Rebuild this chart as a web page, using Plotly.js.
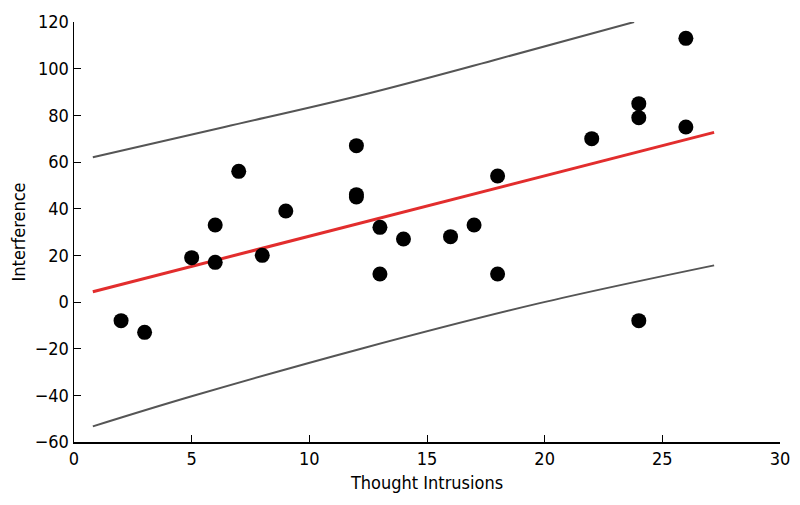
<!DOCTYPE html>
<html>
<head>
<meta charset="utf-8">
<script src="https://cdn.plot.ly/plotly-3.0.1.min.js"></script>
<style>
  body { margin: 0; background: #fff; }
  #chart { width: 800px; height: 505px; }
</style>
</head>
<body>
<div id="chart"></div>
<script>
// observed scores
const intrusions = [2, 3, 5, 6, 6, 7, 8, 9, 12, 12, 12, 13, 13, 14, 16, 17, 18, 18, 22, 24, 24, 24, 26, 26];
const interference = [-8, -13, 19, 33, 17, 56, 20, 39, 67, 46, 45, 32, 12, 27, 28, 33, 54, 12, 70, 85, 79, -8, 113, 75];

// fitted line, read at its two ends
const fitX = [0.8, 27.2];
const fitY = [4.4, 72.7];

// prediction band edges
const upperX = [0.8, 6.4, 12.2, 17.8, 23.8];
const upperY = [62, 75, 88.6, 103.5, 120];
const lowerX = [0.8, 5.0, 12.2, 19.7, 27.2];
const lowerY = [-53.3, -40.4, -20, -0.7, 15.7];

const font = "'Liberation Sans Narrow', 'DejaVu Sans Condensed', Arial, sans-serif";

const traces = [
  {
    x: upperX, y: upperY, mode: 'lines', type: 'scatter',
    line: { color: '#555', width: 2, shape: 'spline' }, hoverinfo: 'skip'
  },
  {
    x: lowerX, y: lowerY, mode: 'lines', type: 'scatter',
    line: { color: '#555', width: 2, shape: 'spline' }, hoverinfo: 'skip'
  },
  {
    x: fitX, y: fitY, mode: 'lines', type: 'scatter',
    line: { color: '#e22d2d', width: 3 }
  },
  {
    x: intrusions, y: interference, mode: 'markers', type: 'scatter',
    marker: { color: '#000', size: 15 }
  }
];

const axisStyle = {
  showgrid: false,
  zeroline: false,
  showline: true,
  linecolor: '#000',
  linewidth: 1.5,
  ticks: 'inside',
  ticklen: 7,
  tickcolor: '#000',
  tickfont: { family: font, size: 18, color: '#000' }
};

const layout = {
  width: 800,
  height: 505,
  margin: { l: 74, r: 20, t: 22, b: 63 },
  paper_bgcolor: '#fff',
  plot_bgcolor: '#fff',
  showlegend: false,
  xaxis: Object.assign({}, axisStyle, {
    range: [0, 30],
    dtick: 5,
    title: { text: 'Thought Intrusions', font: { family: font, size: 18, color: '#000' }, standoff: 8 }
  }),
  yaxis: Object.assign({}, axisStyle, {
    range: [-60, 120],
    dtick: 20,
    title: { text: 'Interference', font: { family: font, size: 18, color: '#000' }, standoff: 4 }
  })
};

Plotly.newPlot('chart', traces, layout, { displayModeBar: false, staticPlot: true });
</script>
</body>
</html>
